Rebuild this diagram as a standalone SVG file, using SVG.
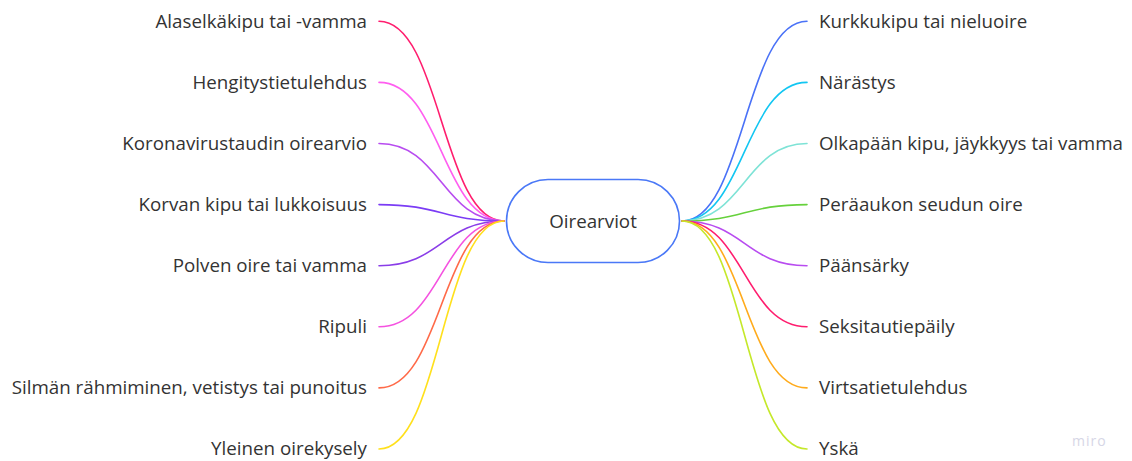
<svg xmlns="http://www.w3.org/2000/svg" width="1132" height="461" viewBox="0 0 1132 461">
  <style>
    .lbl { font-family: "Open Sans", "Noto Sans", sans-serif; font-size: 18.75px; fill: #333333; dominant-baseline: central; }
    .l { text-anchor: end; }
    .r { text-anchor: start; }
    .conn path { fill: none; stroke-width: 1.6; stroke-linecap: round; }
    .wm { font-family: "Open Sans", sans-serif; font-size: 14px; fill: #d6d6e6; letter-spacing: 1px; }
  </style>
  <rect width="1132" height="461" fill="#ffffff"/>

  <!-- branch connectors -->
  <g id="connectors" class="conn">
    <path d="M379 21.3 C441 21.3 442 221 504 221" stroke="#ff1d6e"/>
    <path d="M379 82.4 C441 82.4 442 221 504 221" stroke="#ff5ef0"/>
    <path d="M379 143.5 C441 143.5 442 221 504 221" stroke="#b84cf0"/>
    <path d="M379 204.6 C441 204.6 442 221 504 221" stroke="#7b3cf5"/>
    <path d="M379 265.7 C441 265.7 442 221 504 221" stroke="#8a3de8"/>
    <path d="M379 326.8 C441 326.8 442 221 504 221" stroke="#f552e0"/>
    <path d="M379 387.9 C441 387.9 442 221 504 221" stroke="#ff6a48"/>
    <path d="M379 449 C441 449 442 221 504 221" stroke="#ffe01c"/>

    <path d="M682 221 C744 221 745 21.3 807 21.3" stroke="#4a72f7"/>
    <path d="M682 221 C744 221 745 82.4 807 82.4" stroke="#12c6f2"/>
    <path d="M682 221 C744 221 745 143.5 807 143.5" stroke="#7ee3d6"/>
    <path d="M682 221 C744 221 745 204.6 807 204.6" stroke="#66d13c"/>
    <path d="M682 221 C744 221 745 265.7 807 265.7" stroke="#b84cf0"/>
    <path d="M682 221 C744 221 745 326.8 807 326.8" stroke="#ff1d6e"/>
    <path d="M682 221 C744 221 745 387.9 807 387.9" stroke="#ffab1c"/>
    <path d="M682 221 C744 221 745 449 807 449" stroke="#c5e82a"/>
  </g>

  <!-- central topic -->
  <g id="root">
    <rect x="506.5" y="179.5" width="173" height="83" rx="41.5" fill="#ffffff" stroke="#4a78f7" stroke-width="1.6"/>
    <text class="lbl" x="593" y="220" text-anchor="middle">Oirearviot</text>
  </g>

  <!-- left branches -->
  <g id="n-alaselka"><text class="lbl l" x="367" y="20">Alaselkäkipu tai -vamma</text></g>
  <g id="n-hengitys"><text class="lbl l" x="367" y="81.1">Hengitystietulehdus</text></g>
  <g id="n-korona"><text class="lbl l" x="367" y="142.2">Koronavirustaudin oirearvio</text></g>
  <g id="n-korva"><text class="lbl l" x="367" y="203.3">Korvan kipu tai lukkoisuus</text></g>
  <g id="n-polvi"><text class="lbl l" x="367" y="264.4">Polven oire tai vamma</text></g>
  <g id="n-ripuli"><text class="lbl l" x="367" y="325.5">Ripuli</text></g>
  <g id="n-silma"><text class="lbl l" x="367" y="386.6">Silmän rähmiminen, vetistys tai punoitus</text></g>
  <g id="n-yleinen"><text class="lbl l" x="367" y="447.7">Yleinen oirekysely</text></g>

  <!-- right branches -->
  <g id="n-kurkku"><text class="lbl r" x="819" y="20">Kurkkukipu tai nieluoire</text></g>
  <g id="n-narastys"><text class="lbl r" x="819" y="81.1">Närästys</text></g>
  <g id="n-olkapaa"><text class="lbl r" x="819" y="142.2">Olkapään kipu, jäykkyys tai vamma</text></g>
  <g id="n-peraaukko"><text class="lbl r" x="819" y="203.3">Peräaukon seudun oire</text></g>
  <g id="n-paansarky"><text class="lbl r" x="819" y="264.4">Päänsärky</text></g>
  <g id="n-seksitauti"><text class="lbl r" x="819" y="325.5">Seksitautiepäily</text></g>
  <g id="n-virtsa"><text class="lbl r" x="819" y="386.6">Virtsatietulehdus</text></g>
  <g id="n-yska"><text class="lbl r" x="819" y="447.7">Yskä</text></g>

  <text class="wm" x="1072" y="446">miro</text>
</svg>
